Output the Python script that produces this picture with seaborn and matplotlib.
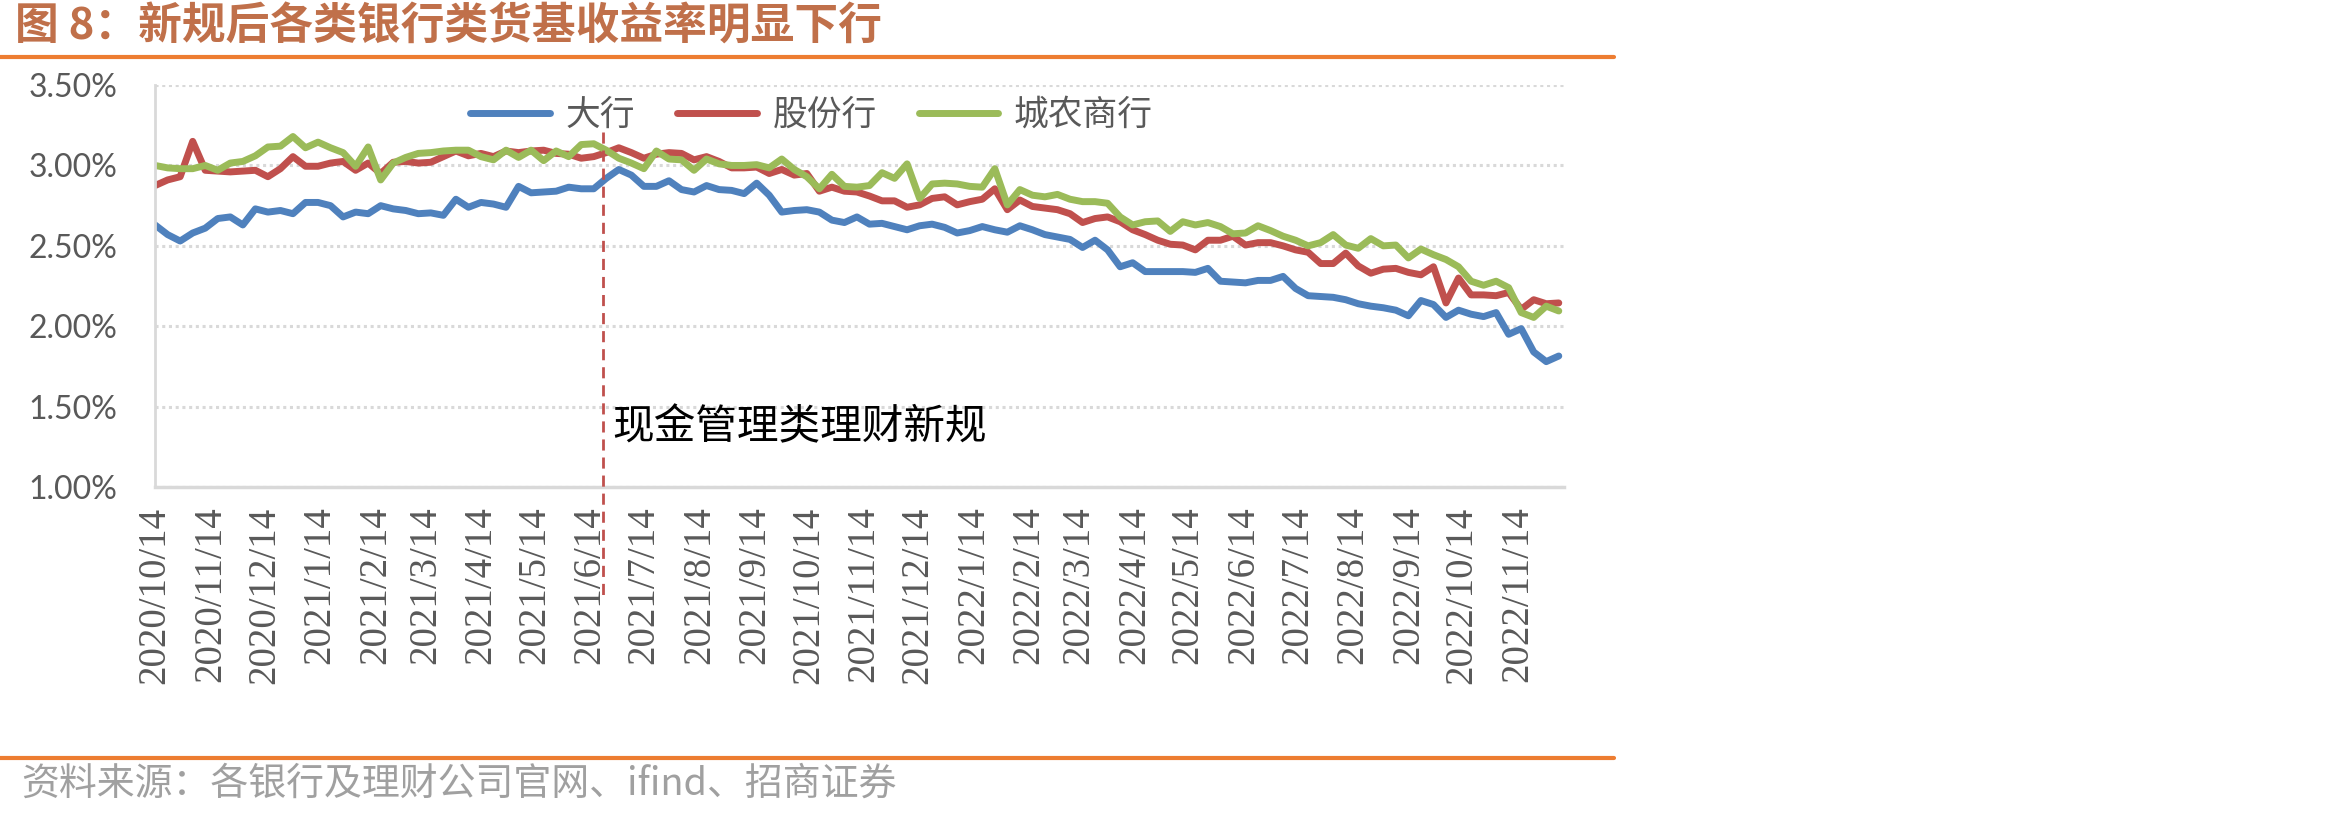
import numpy as np
import pandas as pd
import matplotlib
matplotlib.use("Agg")
import matplotlib.pyplot as plt
import matplotlib.ticker as mticker
from matplotlib.lines import Line2D
import seaborn as sns

# weekly yields (%), 2020/10/14 onwards
dates = pd.date_range("2020-10-14", periods=113, freq="7D")

big_banks = [
    2.63, 2.57, 2.53, 2.58, 2.61, 2.67, 2.68, 2.63, 2.73, 2.71,
    2.72, 2.70, 2.77, 2.77, 2.75, 2.68, 2.71, 2.70, 2.75, 2.73,
    2.72, 2.70, 2.705, 2.69, 2.79, 2.74, 2.77, 2.76, 2.74, 2.87,
    2.83, 2.835, 2.84, 2.865, 2.855, 2.855, 2.92, 2.975, 2.94, 2.87,
    2.87, 2.905, 2.85, 2.835, 2.875, 2.85, 2.845, 2.825, 2.89, 2.815,
    2.71, 2.72, 2.725, 2.71, 2.66, 2.645, 2.68, 2.635, 2.64, 2.62,
    2.60, 2.625, 2.635, 2.615, 2.58, 2.595, 2.62, 2.60, 2.585, 2.625,
    2.60, 2.57, 2.555, 2.54, 2.49, 2.535, 2.475, 2.37, 2.395, 2.34,
    2.34, 2.34, 2.34, 2.335, 2.36, 2.28, 2.275, 2.27, 2.285, 2.285,
    2.31, 2.235, 2.19, 2.185, 2.18, 2.165, 2.14, 2.125, 2.115, 2.10,
    2.065, 2.16, 2.135, 2.055, 2.10, 2.075, 2.06, 2.085, 1.95, 1.985,
    1.84, 1.78, 1.815,
]
joint_stock = [
    2.875, 2.91, 2.93, 3.15, 2.97, 2.965, 2.96, 2.965, 2.97, 2.93,
    2.98, 3.055, 2.995, 2.995, 3.015, 3.025, 2.97, 3.015, 2.95, 3.02,
    3.025, 3.015, 3.02, 3.055, 3.09, 3.06, 3.075, 3.055, 3.09, 3.08,
    3.09, 3.095, 3.075, 3.07, 3.045, 3.055, 3.08, 3.11, 3.08, 3.045,
    3.07, 3.08, 3.075, 3.035, 3.055, 3.025, 2.985, 2.985, 2.99, 2.95,
    2.975, 2.94, 2.95, 2.84, 2.865, 2.84, 2.835, 2.81, 2.78, 2.78,
    2.74, 2.755, 2.795, 2.805, 2.755, 2.775, 2.79, 2.855, 2.725, 2.785,
    2.745, 2.735, 2.725, 2.70, 2.645, 2.67, 2.68, 2.65, 2.60, 2.57,
    2.535, 2.51, 2.505, 2.475, 2.535, 2.535, 2.56, 2.505, 2.52, 2.52,
    2.50, 2.475, 2.46, 2.39, 2.39, 2.455, 2.375, 2.33, 2.355, 2.36,
    2.335, 2.32, 2.37, 2.145, 2.30, 2.195, 2.195, 2.19, 2.21, 2.105,
    2.165, 2.14, 2.145,
]
city_rural = [
    3.00, 2.985, 2.98, 2.98, 3.00, 2.97, 3.015, 3.025, 3.06, 3.115,
    3.12, 3.18, 3.11, 3.145, 3.11, 3.08, 2.995, 3.115, 2.91, 3.015,
    3.05, 3.075, 3.08, 3.09, 3.095, 3.095, 3.055, 3.035, 3.095, 3.05,
    3.095, 3.03, 3.09, 3.055, 3.13, 3.135, 3.095, 3.045, 3.015, 2.98,
    3.09, 3.04, 3.035, 2.97, 3.04, 3.01, 3.00, 3.00, 3.005, 2.985,
    3.04, 2.975, 2.93, 2.855, 2.945, 2.87, 2.865, 2.875, 2.955, 2.92,
    3.01, 2.795, 2.885, 2.89, 2.885, 2.87, 2.865, 2.98, 2.755, 2.85,
    2.815, 2.805, 2.82, 2.79, 2.775, 2.775, 2.765, 2.68, 2.63, 2.65,
    2.655, 2.59, 2.65, 2.63, 2.645, 2.62, 2.575, 2.58, 2.625, 2.595,
    2.56, 2.535, 2.50, 2.52, 2.57, 2.505, 2.485, 2.545, 2.50, 2.505,
    2.425, 2.48, 2.445, 2.415, 2.37, 2.28, 2.255, 2.28, 2.24, 2.085,
    2.055, 2.125, 2.095,
]

bank_names = ["大行", "股份行", "城农商行"]
colors = ["#4F81BD", "#C0504D", "#9BBB59"]
tick_dates = pd.date_range("2020-10-01", "2022-11-01", freq="MS") + pd.Timedelta(days=13)
rule_date = pd.Timestamp("2021-06-21")
rule_text = "现金管理类理财新规"

df = pd.DataFrame({"date": dates, bank_names[0]: big_banks,
                   bank_names[1]: joint_stock, bank_names[2]: city_rural})
df = df.melt(id_vars="date", var_name="bank", value_name="rate")

sns.set_style("white")
plt.rcParams["font.family"] = ["Noto Sans CJK SC", "DejaVu Sans"]

fig = plt.figure(figsize=(23.5, 8.18), dpi=100)
ax = fig.add_axes([0.066, 0.4046, 0.5996, 0.4914])

sns.lineplot(data=df, x="date", y="rate", hue="bank", hue_order=bank_names,
             palette=colors, linewidth=5, ax=ax,
             solid_joinstyle="round", solid_capstyle="round")

grey = "#D9D9D9"
ax.set_ylim(1.0, 3.5)
ax.set_xlim(dates[0], dates[-1] + pd.Timedelta(days=3))
ax.yaxis.set_major_locator(mticker.MultipleLocator(0.5))
ax.yaxis.set_minor_locator(mticker.MultipleLocator(0.1))
ax.yaxis.set_major_formatter(mticker.FuncFormatter(lambda v, p: f"{v:.2f}%"))
ax.yaxis.grid(True, linestyle=(0, (1, 1.2)), color=grey, linewidth=2.2)
ax.set_axisbelow(True)

ax.set_xticks(tick_dates)
ax.set_xticklabels([f"{d.year}/{d.month}/{d.day}" for d in tick_dates], rotation=90)
ax.tick_params(axis="y", which="both", direction="out", length=8, width=2,
               color=grey, labelsize=23, labelcolor="#595959", pad=19)
ax.tick_params(axis="x", direction="in", length=10, width=2, color=grey, pad=14,
               labelsize=28, labelcolor="#595959")
for lab in ax.get_xticklabels():
    lab.set_fontfamily(["Liberation Serif", "DejaVu Serif"])
for lab in ax.get_yticklabels():
    lab.set_fontfamily(["Lato", "DejaVu Sans"])
ax.set_xlabel("")
ax.set_ylabel("")

for side in ["top", "right"]:
    ax.spines[side].set_visible(False)
ax.spines["left"].set_color(grey)
ax.spines["left"].set_linewidth(2)
ax.spines["bottom"].set_color(grey)
ax.spines["bottom"].set_linewidth(2.5)

# policy marker
ax.plot([rule_date, rule_date], [3.21, 0.32], color="#C0504D", linewidth=2,
        dashes=(4, 2.5), clip_on=False, zorder=5)
ax.annotate(rule_text, xy=(rule_date, 1.37), xytext=(7, 0), textcoords="offset points",
            va="center", ha="left", fontsize=30, color="black")

ax.legend(ncol=3, loc="center", bbox_to_anchor=(0.466, 0.925), frameon=False,
          fontsize=25, handlelength=2.3, handletextpad=0.45, columnspacing=1.2,
          labelcolor="#595959")

orange = "#ED7D31"
fig.add_artist(Line2D([0, 0.687], [0.930, 0.930], color=orange, linewidth=3))
fig.add_artist(Line2D([0, 0.687], [0.0733, 0.0733], color=orange, linewidth=3))
fig.text(0.0064, 0.967, "图 8：新规后各类银行类货基收益率明显下行", fontsize=31.5,
         fontweight="bold", color="#C0704A", va="center", ha="left")
fig.text(0.009, 0.0416, "资料来源：各银行及理财公司官网、ifind、招商证券", fontsize=27.3,
         color="#A0A0A0", va="center", ha="left")

fig.savefig("out.png", dpi=100)
